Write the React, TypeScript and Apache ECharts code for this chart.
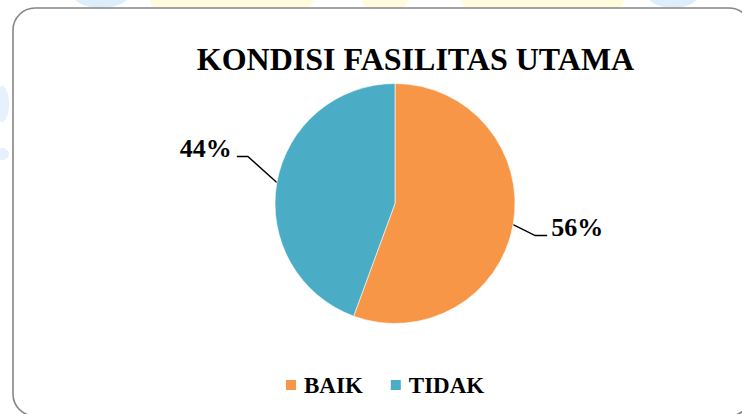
import React, { useEffect, useRef } from "react";
import * as echarts from "echarts";

const titleText = "KONDISI FASILITAS UTAMA";
const categories = ["BAIK", "TIDAK"];
const values = [55.6, 44.4];
const colors = ["#F79646", "#4BACC6"];

export default function App() {
  const ref = useRef<HTMLDivElement>(null);
  useEffect(() => {
    if (!ref.current) return;
    const chart = echarts.init(ref.current, null, { renderer: "svg" });
    const serif = "'Liberation Serif', 'Times New Roman', serif";
    const option: any = {
      animation: false,
      backgroundColor: "#ffffff",
      title: {
        text: titleText,
        left: 415.5,
        top: 43,
        padding: 0,
        textAlign: "center",
        textStyle: { fontFamily: serif, fontWeight: "bold", fontSize: 32, color: "#000" },
      },
      legend: {
        left: 284,
        top: 373.5,
        padding: 0,
        itemWidth: 12,
        itemHeight: 12,
        itemGap: 26,
        icon: "rect",
        data: categories,
        textStyle: { fontFamily: serif, fontWeight: "bold", fontSize: 23, color: "#000", padding: [0, 0, 0, 2] },
      },
      graphic: [
        { type: "ellipse", shape: { cx: 101, cy: -8, rx: 30, ry: 16 }, style: { fill: "#deedfc" }, z: -20, silent: true },
        { type: "rect", shape: { x: 150, y: -10, width: 163, height: 18, r: 8 }, style: { fill: "#fffbdc" }, z: -20, silent: true },
        { type: "rect", shape: { x: 362, y: -10, width: 46, height: 18, r: 8 }, style: { fill: "#fffbdc" }, z: -20, silent: true },
        { type: "rect", shape: { x: 461, y: -10, width: 163, height: 18, r: 8 }, style: { fill: "#fffbdc" }, z: -20, silent: true },
        { type: "ellipse", shape: { cx: 673, cy: -8, rx: 27, ry: 16 }, style: { fill: "#deedfc" }, z: -20, silent: true },
        { type: "ellipse", shape: { cx: 2, cy: 104, rx: 7, ry: 18 }, style: { fill: "#e6f1fd" }, z: -20, silent: true },
        { type: "ellipse", shape: { cx: 2, cy: 154, rx: 7, ry: 6 }, style: { fill: "#e6f1fd" }, z: -20, silent: true },
        {
          type: "rect",
          shape: { x: 13, y: 8, width: 738, height: 408, r: 22 },
          style: { fill: "#ffffff", stroke: "#858585", lineWidth: 1.6 },
          z: -10,
          silent: true,
        },
      ],
      series: [
        {
          type: "pie",
          center: [395, 203.5],
          radius: 120,
          startAngle: 90,
          clockwise: true,
          avoidLabelOverlap: false,
          percentPrecision: 0,
          data: categories.map((c, i) => ({ name: c, value: values[i], itemStyle: { color: colors[i] } })),
          itemStyle: { borderColor: "#ffffff", borderWidth: 0.6 },
          label: {
            show: true,
            position: "outside",
            formatter: "{d}%",
            fontFamily: serif,
            fontWeight: "bold",
            fontSize: 26,
            color: "#000",
          },
          labelLine: { show: true, length: 20, length2: 10, lineStyle: { color: "#000", width: 1.4 } },
          labelLayout: (p: any) => {
            const p0 = p.labelLinePoints ? p.labelLinePoints[0] : [0, 0];
            if (p.dataIndex === 1) {
              const p1 = [p0[0] - 29, p0[1] - 26];
              const p2 = [p1[0] - 11, p1[1]];
              return {
                x: p2[0] - 5,
                y: p2[1] - 8,
                align: "right",
                verticalAlign: "middle",
                labelLinePoints: [p0, p1, p2],
              };
            }
            const p1 = [p0[0] + 22, p0[1] + 11];
            const p2 = [p1[0] + 12, p1[1]];
            return {
              x: p2[0] + 4,
              y: p2[1] - 8.5,
              align: "left",
              verticalAlign: "middle",
              labelLinePoints: [p0, p1, p2],
            };
          },
        },
      ],
    };
    chart.setOption(option);
    return () => chart.dispose();
  }, []);
  return (
    <div
      ref={ref}
      style={{ position: "absolute", left: 0, top: 0, width: 742, height: 414 }}
    />
  );
}
